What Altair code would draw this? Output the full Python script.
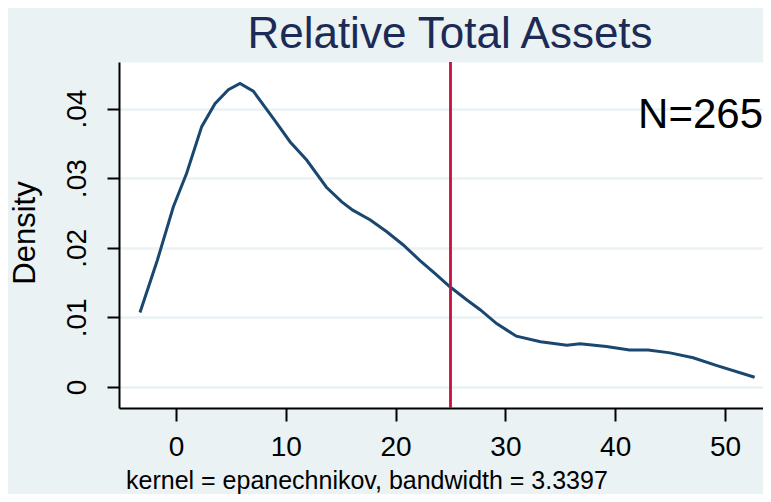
import altair as alt
import pandas as pd

# Kernel density estimate
xs = [-3.28, -1.7, -0.24, 0.97, 2.34, 3.55, 4.77, 5.83, 7.04, 8.86, 10.4, 11.9,
      13.7, 15.1, 16.1, 17.7, 19.2, 20.7, 22.2, 23.6, 24.95, 26.5, 27.7, 29.2,
      31.0, 33.2, 35.6, 36.8, 39.2, 41.3, 43.0, 45.0, 47.1, 49.2, 52.7]
dens = [0.0107, 0.0182, 0.0259, 0.0307, 0.0374, 0.0407, 0.0427, 0.0436, 0.0425,
        0.0386, 0.0352, 0.0326, 0.0287, 0.0266, 0.0254, 0.0240, 0.0223, 0.0204,
        0.0182, 0.0163, 0.0144, 0.0125, 0.0111, 0.0091, 0.0073, 0.0065, 0.0060,
        0.0062, 0.0058, 0.0053, 0.0053, 0.0049, 0.0042, 0.0031, 0.0014]
ref_line = [25]
x_ticks = [0, 10, 20, 30, 40, 50]
y_ticks = [0, 0.01, 0.02, 0.03, 0.04]
title_text = ["Relative Total Assets"]
n_text = ["N=265"]
note_text = ["kernel = epanechnikov, bandwidth = 3.3397"]
ytitle_text = ["Density"]

FONT = "Liberation Sans"
W, H = 644, 346
PX_PER_X = 10.98
XMIN = -5.191
XMAX = XMIN + W / PX_PER_X
YMIN, YMAX = -0.00302, 0.04669

df = pd.DataFrame({"x": xs, "y": dens})

xscale = alt.Scale(domain=[XMIN, XMAX], nice=False, zero=False)
yscale = alt.Scale(domain=[YMIN, YMAX], nice=False, zero=False)

line = alt.Chart(df).mark_line(color="#1A476F", strokeWidth=3).encode(
    x=alt.X("x:Q", scale=xscale,
            axis=alt.Axis(values=x_ticks, title=None, grid=False, format="d",
                          domainColor="black", domainWidth=2,
                          tickColor="black", tickWidth=2, tickSize=13,
                          labelFont=FONT, labelFontSize=28, labelColor="black",
                          labelPadding=12)),
    y=alt.Y("y:Q", scale=yscale,
            axis=alt.Axis(values=y_ticks, title=None, grid=True,
                          gridColor="#EAF2F3", gridWidth=2.5,
                          labelExpr="datum.value == 0 ? '0' : replace(format(datum.value, '.2f'), '0.', '.')",
                          domainColor="black", domainWidth=2,
                          tickColor="black", tickWidth=2, tickSize=12,
                          labelFont=FONT, labelFontSize=28, labelColor="black",
                          labelAngle=270, labelAlign="center", labelBaseline="alphabetic",
                          labelPadding=22)),
)

rule = alt.Chart(pd.DataFrame({"x": ref_line})).mark_rule(
    color="#C8103C", strokeWidth=2.8).encode(x=alt.X("x:Q", scale=xscale))

title = alt.Chart(pd.DataFrame({"t": title_text})).mark_text(
    font=FONT, fontSize=44, color="#1C2B55", align="center", baseline="alphabetic"
).encode(x=alt.value(331), y=alt.value(-14), text="t:N")

ntext = alt.Chart(pd.DataFrame({"t": n_text})).mark_text(
    font=FONT, fontSize=42, color="black", align="right", baseline="alphabetic"
).encode(x=alt.value(644), y=alt.value(66), text="t:N")

note = alt.Chart(pd.DataFrame({"t": note_text})).mark_text(
    font=FONT, fontSize=25, color="black", align="left", baseline="alphabetic"
).encode(x=alt.value(7), y=alt.value(427), text="t:N")

ytitle = alt.Chart(pd.DataFrame({"t": ytitle_text})).mark_text(
    font=FONT, fontSize=31, color="black", align="center", baseline="alphabetic", angle=270
).encode(x=alt.value(-84), y=alt.value(171), text="t:N")

chart = alt.layer(line, rule, title, ntext, note, ytitle).properties(
    width=W, height=H,
    padding={"left": 111, "top": 54, "right": 0, "bottom": 86},
    autosize=alt.AutoSizeParams(type="none"),
    background="#EAF2F3",
).configure_view(stroke="transparent", fill="white")

chart.save("out.html", embed_options={"renderer": "svg", "actions": False})
